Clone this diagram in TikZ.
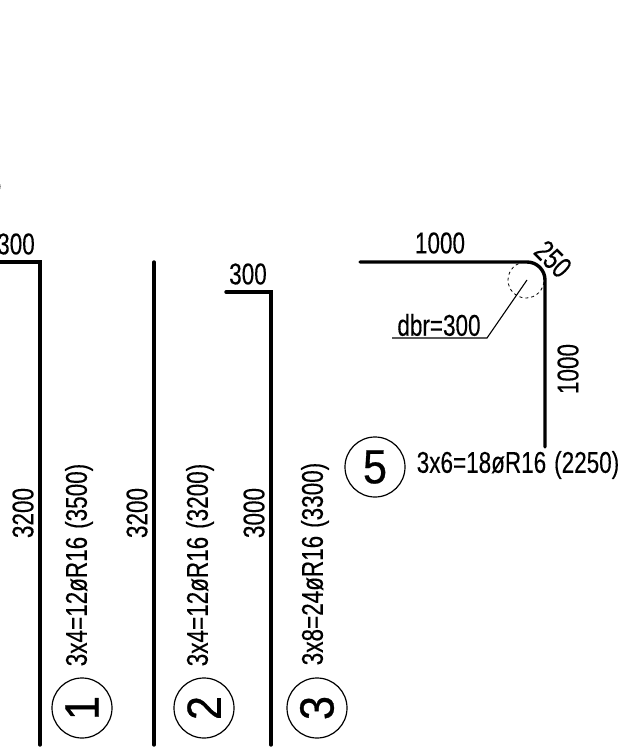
\documentclass[tikz,border=0pt]{standalone}
\usepackage{fontspec}
\setmainfont{Liberation Sans}
\newfontfamily\cadfont[FakeStretch=0.75,FakeBold=0.25]{Liberation Sans}
\newfontfamily\bigfont[FakeStretch=0.9,FakeBold=0.6]{Liberation Sans}
\tikzset{
  x=1pt,y=-1pt,
  bar/.style={line width=3.4pt,line cap=round,line join=miter},
  thin line/.style={line width=1.1pt},
  lbl/.style={inner sep=0pt,font=\cadfont\fontsize{30}{30}\selectfont},
  pos mark/.style={circle,draw,line width=1.2pt,minimum size=60pt,inner sep=0pt,font=\bigfont\fontsize{48}{48}\selectfont},
}
\newcommand{\spec}[2]{#1\hspace{8pt}(#2)}
\begin{document}
\begin{tikzpicture}
\useasboundingbox (0,0) rectangle (644,754);
% bar 1
\coordinate (b1a) at (-5,262);
\coordinate (b1b) at (40,262);
\coordinate (b1c) at (40,745);
\draw[bar] (b1a) -- (b1b) -- (b1c);
\node[lbl] (t300a) at (16,244) {300};
\node[lbl] (frag) at (-5,183) {6};
\node[lbl,rotate=90] (t3200a) at (23,513) {3200};
\node[lbl,rotate=90] (spec1) at (79,565) {\spec{3x4=12øR16}{3500}};
\node[pos mark,rotate=90] (m1) at (82,708) {1};
% bar 2
\coordinate (b2a) at (154,262);
\coordinate (b2b) at (154,745);
\draw[bar] (b2a) -- (b2b);
\node[lbl,rotate=90] (t3200b) at (137,513) {3200};
\node[lbl,rotate=90] (spec2) at (200,565) {\spec{3x4=12øR16}{3200}};
\node[pos mark,rotate=90] (m2) at (204,708) {2};
% bar 3
\coordinate (b3a) at (226,292);
\coordinate (b3b) at (271,292);
\coordinate (b3c) at (271,745);
\draw[bar] (b3a) -- (b3b) -- (b3c);
\node[lbl] (t300b) at (248,274) {300};
\node[lbl,rotate=90] (t3000) at (254,513) {3000};
\node[lbl,rotate=90] (spec3) at (315,564) {\spec{3x8=24øR16}{3300}};
\node[pos mark,rotate=90] (m3) at (317,708) {3};
% bar 5
\coordinate (b5a) at (360,262);
\coordinate (b5b) at (545,262);
\coordinate (b5c) at (545,447);
\draw[bar,rounded corners=18pt] (b5a) -- (b5b) -- (b5c);
\node[lbl] (t1000a) at (440,243) {1000};
\node[lbl,rotate=-45] (t250) at (553,259) {250};
\node[lbl,rotate=90] (t1000b) at (568,369) {1000};
\node[circle,draw,dashed,line width=.8pt,minimum size=36pt,inner sep=0pt] (bend) at (526,280) {};
\coordinate (l1) at (527,280);
\coordinate (l2) at (487,338);
\coordinate (l3) at (392,338);
\draw[thin line] (l1) -- (l2) -- (l3);
\node[lbl] (dbr) at (439,325) {dbr=300};
\node[pos mark] (m5) at (375,467) {5};
\node[lbl] (spec5) at (518,465) {\spec{3x6=18øR16}{2250}};
\end{tikzpicture}
\end{document}
